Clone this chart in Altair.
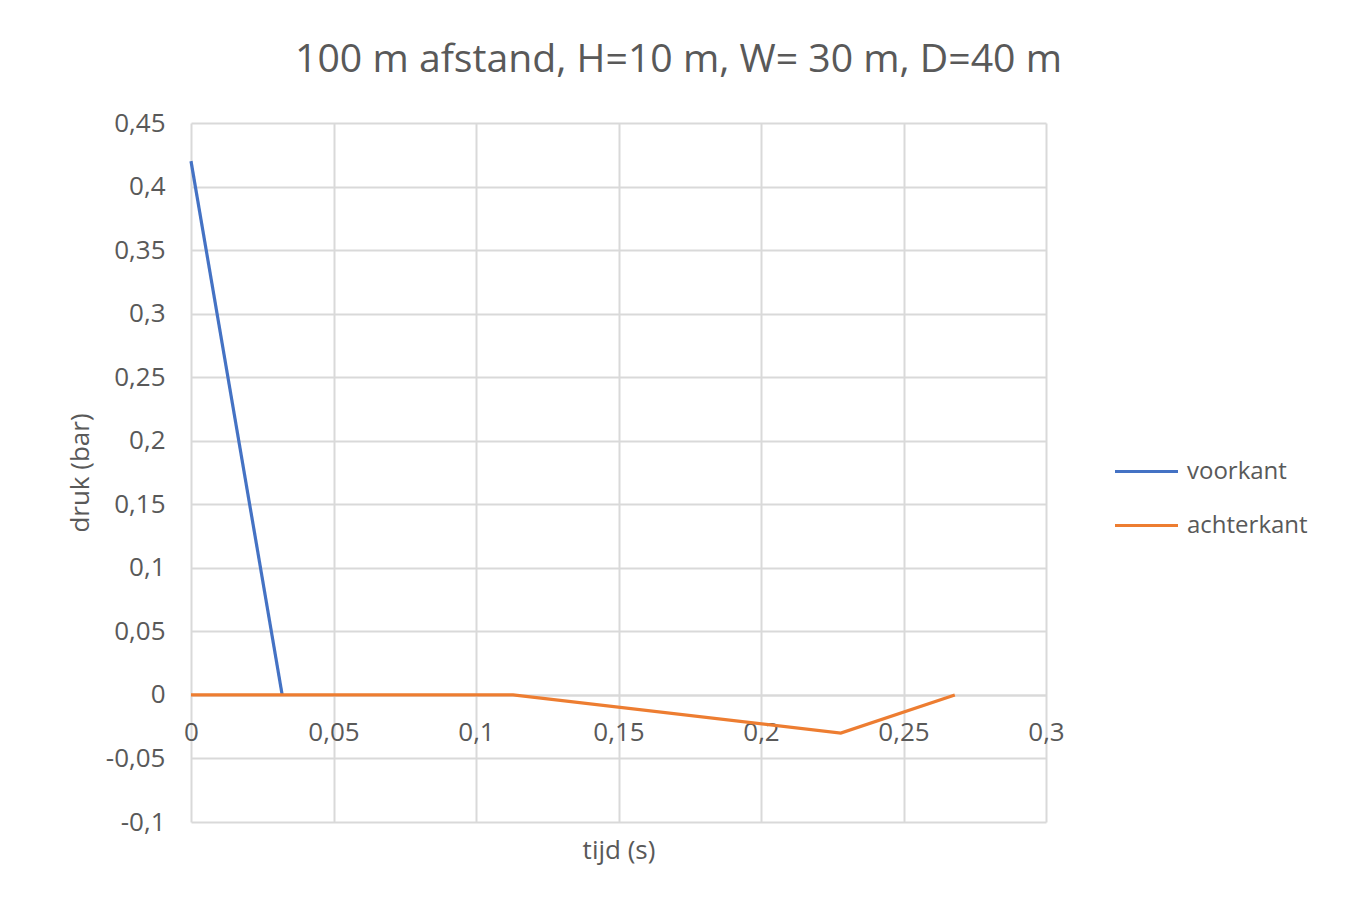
import altair as alt
import pandas as pd

# ---- data ----
series = ["voorkant", "achterkant"]
voorkant_t = [0.0, 0.032]
voorkant_p = [0.42, 0.0]
achterkant_t = [0.0, 0.113, 0.228, 0.268]
achterkant_p = [0.0, 0.0, -0.03, 0.0]
x_ticks = [0, 0.05, 0.1, 0.15, 0.2, 0.25, 0.3]
y_ticks = [-0.1, -0.05, 0, 0.05, 0.1, 0.15, 0.2, 0.25, 0.3, 0.35, 0.4, 0.45]
colors = ["#4472C4", "#ED7D31"]

rows = []
for i, (t, p) in enumerate(zip(voorkant_t, voorkant_p)):
    rows.append({"serie": "voorkant", "t": t, "p": p, "i": i})
for i, (t, p) in enumerate(zip(achterkant_t, achterkant_p)):
    rows.append({"serie": "achterkant", "t": t, "p": p, "i": i})
df = pd.DataFrame(rows)

FONT = "Open Sans"
GRAY = "#595959"
GRID = "#d9d9d9"
label_expr = "replace('' + datum.value, '.', ',')"

xscale = alt.Scale(domain=[0, 0.3], nice=False, zero=False)
yscale = alt.Scale(domain=[-0.1, 0.45], nice=False, zero=False)

lines = alt.Chart(df).mark_line(strokeWidth=3.2).encode(
    x=alt.X("t:Q", scale=xscale,
            axis=alt.Axis(orient="bottom", values=x_ticks, grid=True, labels=False,
                          ticks=False, domain=False, title=None,
                          gridColor=GRID, gridWidth=2)),
    y=alt.Y("p:Q", scale=yscale,
            axis=alt.Axis(values=y_ticks, grid=True, ticks=False, tickSize=0,
                          domain=False, labelExpr=label_expr, labelFont=FONT,
                          labelFontSize=26, labelColor=GRAY, labelPadding=26,
                          gridColor=GRID, gridWidth=2,
                          title="druk (bar)", titleFont=FONT, titleFontSize=26,
                          titleFontWeight="normal", titleColor=GRAY,
                          titleX=-111, titleBaseline="middle")),
    color=alt.Color("serie:N", scale=alt.Scale(domain=series, range=colors),
                    legend=alt.Legend(title=None, orient="none", legendX=922, legendY=315,
                                      symbolType="stroke", symbolSize=3969,
                                      symbolStrokeWidth=3.2, labelFont=FONT,
                                      labelFontSize=24, labelColor=GRAY,
                                      labelOffset=7, rowPadding=8, padding=0)),
    order="i:Q",
)

zero_axis = alt.Chart(df).mark_point(opacity=0).encode(
    x=alt.X("t:Q", scale=xscale,
            axis=alt.Axis(orient="bottom", offset=-127, values=x_ticks, grid=False,
                          ticks=False, tickSize=0, domain=True, domainColor=GRID,
                          domainWidth=2, labelExpr=label_expr, labelFont=FONT,
                          labelFontSize=26, labelColor=GRAY, labelPadding=24,
                          labelFlush=False,
                          title="tijd (s)", titleFont=FONT, titleFontSize=26,
                          titleFontWeight="normal", titleColor=GRAY,
                          titleY=155, titleBaseline="middle")),
    y=alt.Y("p:Q", scale=yscale),
)

chart = alt.layer(lines, zero_axis).resolve_axis(x="independent").properties(
    width=855, height=699,
    autosize=alt.AutoSizeParams(type="none"),
    padding={"left": 191, "top": 123, "right": 299, "bottom": 79},
    title=alt.TitleParams("100 m afstand, H=10 m, W= 30 m, D=40 m", font=FONT,
                          fontSize=39.2, fontWeight="normal", color=GRAY,
                          anchor="middle", frame="group", dx=60, dy=39, offset=38,
                          baseline="alphabetic"),
).configure(background="#ffffff").configure_view(stroke=None)

chart.save("out.html", embed_options={"renderer": "svg", "actions": False})
